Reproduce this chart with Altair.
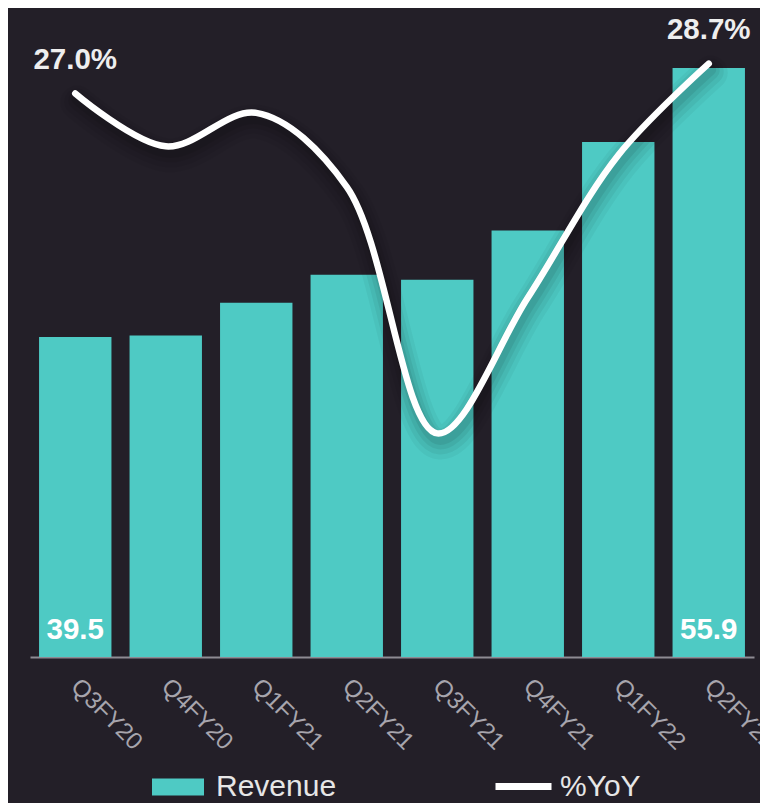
import altair as alt
import pandas as pd

quarters = ["Q3FY20", "Q4FY20", "Q1FY21", "Q2FY21", "Q3FY21", "Q4FY21", "Q1FY22", "Q2FY22"]
revenue = [39.5, 39.6, 41.6, 43.3, 43.0, 46.0, 51.4, 55.9]
yoy = [27.0, 24.0, 25.9, 21.7, 7.7, 15.4, 23.5, 28.7]
labelled = [0, 7]

BG = "#231f28"
TEAL = "#4ecac4"
FONT = "Liberation Sans"

df = pd.DataFrame({
    "idx": list(range(len(quarters))),
    "quarter": quarters,
    "revenue": revenue,
    "yoy": yoy,
    "base": [20] * len(quarters),
    "rev_series": ["Revenue"] * len(quarters),
    "yoy_series": ["%YoY"] * len(quarters),
})

filt = " || ".join(f"datum.idx == {i}" for i in labelled)

x = alt.X(
    "quarter:N",
    sort=quarters,
    scale=alt.Scale(paddingInner=0.2, paddingOuter=0.1),
    axis=alt.Axis(
        title=None, labelAngle=45, labelAlign="left", labelBaseline="top",
        labelPadding=17, labelOffset=8, labelFontSize=24, labelColor="#a7a5ad", labelFont=FONT,
        domainColor="#8e8b93", domainWidth=2, ticks=False, grid=False,
    ),
)

rev_scale = alt.Scale(domain=[20, 59.5], zero=False, nice=False)
y_rev = alt.Y("revenue:Q", scale=rev_scale, axis=None)
y_yoy = alt.Y("yoy:Q", scale=alt.Scale(domain=[-5, 31.8], zero=False, nice=False), axis=None)

base = alt.Chart(df)

bars = base.mark_bar(clip=True).encode(
    x=x,
    y=y_rev,
    y2="base:Q",
    fill=alt.Fill(
        "rev_series:N",
        scale=alt.Scale(domain=["Revenue"], range=[TEAL]),
        legend=alt.Legend(
            title=None, orient="none", legendX=122, legendY=752,
            symbolType="M-1,-0.33H1V0.33H-1Z", symbolSize=2704,
            symbolStrokeWidth=0, symbolOpacity=1,
            labelFontSize=30, labelColor="#e6e6e6", labelFont=FONT, labelOffset=12,
            padding=0,
        ),
    ),
)

bar_text = base.transform_filter(filt).transform_calculate(
    lbl="format(datum.revenue, '.1f')"
).mark_text(
    dy=-18, baseline="alphabetic", fontSize=29.5, fontWeight="bold", color="#ffffff", font=FONT
).encode(x=x, y=alt.Y("base:Q", scale=rev_scale, axis=None), text="lbl:N")

rev_layer = alt.layer(bars, bar_text)

shadows = []
for w, op, yo in [(34, 0.04, 9), (26, 0.05, 8), (18, 0.06, 7), (11, 0.07, 6)]:
    shadows.append(
        base.mark_line(
            interpolate="catmull-rom", color="#000000", opacity=op, strokeWidth=w,
            strokeCap="round", strokeJoin="round", xOffset=2, yOffset=yo,
        ).encode(x=x, y=y_yoy)
    )

line = base.mark_line(
    interpolate="catmull-rom", strokeWidth=6.5, strokeCap="round",
).encode(
    x=x,
    y=y_yoy,
    stroke=alt.Stroke(
        "yoy_series:N",
        scale=alt.Scale(domain=["%YoY"], range=["#ffffff"]),
        legend=alt.Legend(
            title=None, orient="none", legendX=462, legendY=746,
            symbolType="stroke", symbolSize=3136, symbolStrokeWidth=7,
            labelFontSize=30, labelColor="#e6e6e6", labelFont=FONT, labelOffset=5,
            padding=0,
        ),
    ),
)

line_text = base.transform_filter(filt).transform_calculate(
    lbl="format(datum.yoy, '.1f') + '%'"
).mark_text(
    dy=-25, baseline="alphabetic", fontSize=29.5, fontWeight="bold", color="#eeeeee", font=FONT
).encode(x=x, y=y_yoy, text="lbl:N")

yoy_layer = alt.layer(*shadows, line, line_text)

chart = alt.layer(rev_layer, yoy_layer).resolve_scale(
    y="independent"
).properties(
    width=724,
    height=648,
    autosize=alt.AutoSizeParams(type="none"),
    padding={"left": 22, "top": 1, "right": 6, "bottom": 146},
    background=BG,
).configure_view(stroke=None)

chart.save("out.html", embed_options={"renderer": "svg", "actions": False})
